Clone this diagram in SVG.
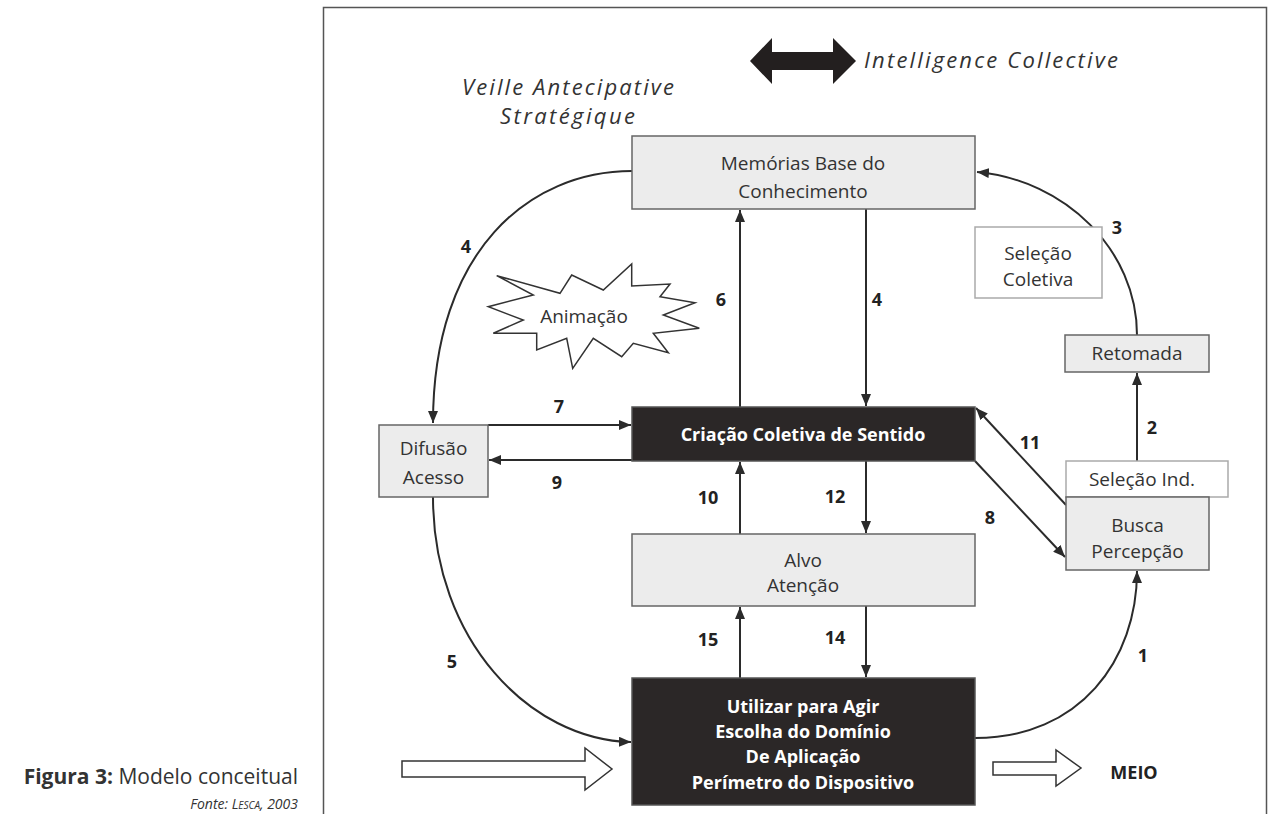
<svg xmlns="http://www.w3.org/2000/svg" width="1272" height="814" viewBox="0 0 1272 814">
<defs>
<marker id="ah" viewBox="0 0 12 10" refX="12" refY="5" markerWidth="12" markerHeight="10" markerUnits="userSpaceOnUse" orient="auto"><path d="M0,0 L12,5 L0,10 z" fill="#2b2b2b"/></marker>
<style>
.box{fill:#ececec;stroke:#666;stroke-width:1.5}
.dark{fill:#2b2727;stroke:#555;stroke-width:1.5}
.white{fill:#fff;stroke:#aaa;stroke-width:1.5}
.t{font-family:"Open Sans","Liberation Sans",sans-serif;font-size:19px;fill:#333;text-anchor:middle}
.tb{font-family:"Open Sans","Liberation Sans",sans-serif;font-size:18px;font-weight:bold;fill:#fff;text-anchor:middle}
.n{font-family:"Open Sans","Liberation Sans",sans-serif;font-size:18px;font-weight:bold;fill:#222;text-anchor:middle}
.it{font-family:"Open Sans","Liberation Sans",sans-serif;font-size:22px;font-style:italic;fill:#333}
.c{fill:none;stroke:#2b2b2b;stroke-width:2;marker-end:url(#ah)}
.hollow{fill:#fff;stroke:#333;stroke-width:1.5}
</style>
</defs>
<rect x="0" y="0" width="1272" height="814" fill="#fff"/>
<rect x="323.5" y="7.5" width="943" height="830" fill="none" stroke="#555" stroke-width="1.5"/>

<g id="header">
<text class="it" x="462" y="95" textLength="212" lengthAdjust="spacing">Veille  Antecipative</text>
<text class="it" x="500" y="124" textLength="135" lengthAdjust="spacing">Stratégique</text>
<path d="M750,61 L772,38 L772,52 L833,52 L833,38 L856,61 L833,84 L833,70 L772,70 L772,84 z" fill="#231f1f"/>
<text class="it" x="864" y="68" textLength="254" lengthAdjust="spacing">Intelligence  Collective</text>
</g>

<g id="connectors">
<path class="c" d="M740,407 L740,210"/>
<path class="c" d="M866,209 L866,406"/>
<path class="c" d="M740,534 L740,462"/>
<path class="c" d="M866,461 L866,533"/>
<path class="c" d="M740,678 L740,607"/>
<path class="c" d="M866,606 L866,677"/>
<path class="c" d="M488,425 L631,425"/>
<path class="c" d="M632,460 L489,460"/>
<path class="c" d="M1066,505 L976,408"/>
<path class="c" d="M975,461 L1065,557"/>
<path class="c" d="M1137,461 L1137,373"/>
<path class="c" d="M1137,335 C1137,250 1065,180 977,172"/>
<path class="c" d="M632,171 C530,171 433,250 433,423"/>
<path class="c" d="M433,497 C433,640 530,740 631,742"/>
<path class="c" d="M975,738 C1080,738 1137,660 1137,571"/>
</g>

<g id="labels">
<text class="n" x="466" y="253">4</text>
<text class="n" x="721" y="306">6</text>
<text class="n" x="877" y="306">4</text>
<text class="n" x="1117" y="234">3</text>
<text class="n" x="559" y="413">7</text>
<text class="n" x="557" y="489">9</text>
<text class="n" x="1030" y="449">11</text>
<text class="n" x="1152" y="434">2</text>
<text class="n" x="990" y="524">8</text>
<text class="n" x="708" y="504">10</text>
<text class="n" x="835" y="503">12</text>
<text class="n" x="708" y="646">15</text>
<text class="n" x="835" y="644">14</text>
<text class="n" x="452" y="668">5</text>
<text class="n" x="1143" y="662">1</text>
</g>

<g id="memorias">
<rect class="box" x="632" y="136" width="343" height="73"/>
<text class="t" x="803" y="170">Memórias Base do</text>
<text class="t" x="803" y="198">Conhecimento</text>
</g>

<g id="animacao">
<polygon fill="#fff" stroke="#333" stroke-width="1.5" points="496.7,275.7 533.3,295 488.3,306.7 523.3,320 493.3,333.3 536.7,333.3 536.7,350 566.7,338.3 572.7,368.3 593.3,338.3 621.7,356.7 633.3,343.3 668.3,352.7 653.3,333.3 699.3,328.3 663.3,315 695,302.7 660,296.7 670,284 631.7,286 631.7,264 603.3,290 571.7,275 560,293.3"/>
<text class="t" x="584" y="323">Animação</text>
</g>

<g id="selecao-coletiva">
<rect class="white" x="975" y="227" width="127" height="71"/>
<text class="t" x="1038" y="260">Seleção</text>
<text class="t" x="1038" y="286">Coletiva</text>
</g>

<g id="retomada">
<rect class="box" x="1065" y="335" width="144" height="37"/>
<text class="t" x="1137" y="360">Retomada</text>
</g>

<g id="difusao">
<rect class="box" x="379" y="425" width="109" height="72"/>
<text class="t" x="433.5" y="455">Difusão</text>
<text class="t" x="433.5" y="484">Acesso</text>
</g>

<g id="criacao">
<rect class="dark" x="632" y="407" width="343" height="54"/>
<text class="tb" x="803" y="441" font-size="20">Criação Coletiva de Sentido</text>
</g>

<g id="selecao-ind">
<rect class="white" x="1066" y="461" width="162" height="36"/>
<text class="t" x="1142" y="486">Seleção Ind.</text>
</g>

<g id="busca">
<rect class="box" x="1066" y="497" width="143" height="73"/>
<text class="t" x="1137.5" y="532">Busca</text>
<text class="t" x="1137.5" y="558">Percepção</text>
</g>

<g id="alvo">
<rect class="box" x="632" y="534" width="343" height="72"/>
<text class="t" x="803" y="567">Alvo</text>
<text class="t" x="803" y="592">Atenção</text>
</g>

<g id="utilizar">
<rect class="dark" x="632" y="678" width="343" height="127"/>
<text class="tb" x="803" y="713">Utilizar para Agir</text>
<text class="tb" x="803" y="738">Escolha do Domínio</text>
<text class="tb" x="803" y="763">De Aplicação</text>
<text class="tb" x="803" y="789">Perímetro do Dispositivo</text>
</g>

<g id="input-arrow">
<path class="hollow" d="M402,761 L585,761 L585,748 L612,769 L585,790 L585,777 L402,777 z"/>
</g>

<g id="meio">
<path class="hollow" d="M993,762 L1056,762 L1056,750 L1081,768 L1056,786 L1056,775 L993,775 z"/>
<text class="n" x="1134" y="779">MEIO</text>
</g>

<g id="caption">
<text x="298" y="784" font-family="'Open Sans','Liberation Sans',sans-serif" font-size="21" fill="#333" text-anchor="end"><tspan font-weight="bold">Figura 3:</tspan> Modelo conceitual</text>
<text x="298" y="809" font-family="'Open Sans','Liberation Sans',sans-serif" font-size="14" font-style="italic" fill="#333" text-anchor="end">Fonte: L<tspan font-size="10">ESCA</tspan>, 2003</text>
</g>
</svg>
